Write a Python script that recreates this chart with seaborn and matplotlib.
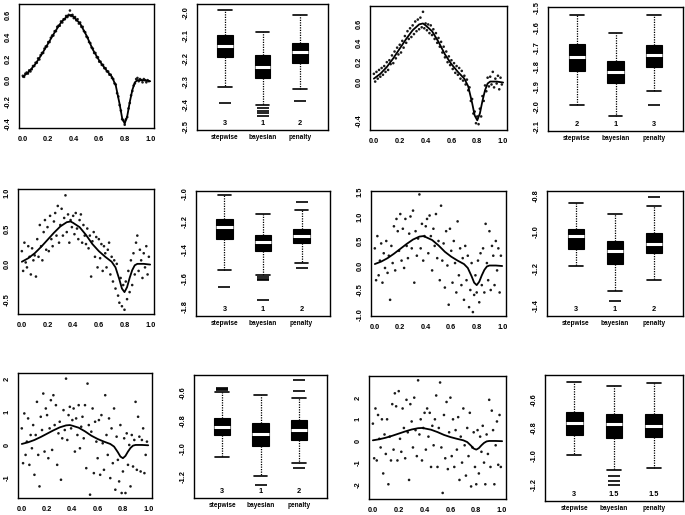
import numpy as np
import pandas as pd
import matplotlib
matplotlib.use("Agg")
import matplotlib.pyplot as plt
import seaborn as sns
from matplotlib.transforms import blended_transform_factory

# ---------------- data ----------------
methods = ["stepwise", "bayesian", "penalty"]

curve_x = [0.00, 0.05, 0.10, 0.15, 0.20, 0.25, 0.30, 0.35, 0.38, 0.40, 0.45, 0.50, 0.55,
           0.60, 0.65, 0.70, 0.73, 0.76, 0.78, 0.80, 0.82, 0.84, 0.86, 0.88, 0.90, 0.95, 1.00]
curve_y = [0.03, 0.08, 0.15, 0.24, 0.34, 0.44, 0.53, 0.59, 0.60, 0.58, 0.52, 0.41, 0.28,
           0.18, 0.10, 0.03, -0.05, -0.22, -0.35, -0.40, -0.33, -0.20, -0.09, -0.02, 0.00, 0.00, -0.01]

x_pts = [0.00, 0.01, 0.02, 0.03, 0.04, 0.05, 0.06, 0.07, 0.08, 0.09,
         0.10, 0.11, 0.12, 0.13, 0.14, 0.15, 0.16, 0.17, 0.18, 0.19,
         0.20, 0.21, 0.22, 0.23, 0.24, 0.25, 0.26, 0.27, 0.28, 0.29,
         0.30, 0.31, 0.32, 0.33, 0.34, 0.35, 0.36, 0.37, 0.38, 0.39,
         0.40, 0.41, 0.42, 0.43, 0.44, 0.45, 0.46, 0.47, 0.48, 0.49,
         0.50, 0.51, 0.52, 0.53, 0.54, 0.55, 0.56, 0.57, 0.58, 0.59,
         0.60, 0.61, 0.62, 0.63, 0.64, 0.65, 0.66, 0.67, 0.68, 0.69,
         0.70, 0.71, 0.72, 0.73, 0.74, 0.75, 0.76, 0.77, 0.78, 0.79,
         0.80, 0.81, 0.82, 0.83, 0.84, 0.85, 0.86, 0.87, 0.88, 0.89,
         0.90, 0.91, 0.92, 0.93, 0.94, 0.95, 0.96, 0.97, 0.98, 0.99]

y_r1c1 = [0.04, 0.03, 0.06, 0.07, 0.06, 0.09, 0.08, 0.10, 0.13, 0.13,
          0.16, 0.16, 0.20, 0.19, 0.23, 0.25, 0.25, 0.29, 0.31, 0.31,
          0.35, 0.35, 0.39, 0.41, 0.41, 0.45, 0.45, 0.49, 0.50, 0.50,
          0.54, 0.53, 0.56, 0.56, 0.59, 0.58, 0.60, 0.64, 0.59, 0.60,
          0.57, 0.58, 0.55, 0.56, 0.52, 0.53, 0.49, 0.49, 0.45, 0.44,
          0.40, 0.39, 0.35, 0.34, 0.30, 0.29, 0.25, 0.25, 0.21, 0.21,
          0.17, 0.17, 0.14, 0.14, 0.11, 0.11, 0.08, 0.08, 0.05, 0.05,
          0.02, 0.01, -0.03, -0.04, -0.12, -0.15, -0.23, -0.28, -0.36, -0.37,
          -0.41, -0.36, -0.34, -0.26, -0.21, -0.14, -0.10, -0.05, -0.03, 0.01,
          0.02, -0.01, 0.01, 0.00, -0.02, 0.01, 0.00, -0.02, 0.00, -0.01]

y_r1c3 = [0.08, 0.00, 0.10, 0.03, 0.12, 0.05, 0.14, 0.07, 0.16, 0.10,
          0.20, 0.12, 0.22, 0.18, 0.27, 0.19, 0.31, 0.24, 0.35, 0.28,
          0.38, 0.30, 0.42, 0.35, 0.47, 0.40, 0.52, 0.44, 0.55, 0.46,
          0.58, 0.49, 0.62, 0.52, 0.64, 0.54, 0.66, 0.56, 0.72, 0.55,
          0.60, 0.53, 0.59, 0.50, 0.58, 0.48, 0.54, 0.44, 0.50, 0.40,
          0.45, 0.36, 0.41, 0.30, 0.36, 0.25, 0.31, 0.20, 0.26, 0.17,
          0.22, 0.13, 0.19, 0.09, 0.16, 0.07, 0.14, 0.03, 0.11, 0.01,
          0.06, -0.03, 0.02, -0.09, -0.06, -0.20, -0.18, -0.33, -0.31, -0.43,
          -0.36, -0.44, -0.28, -0.36, -0.15, -0.20, -0.04, -0.10, 0.04, -0.05,
          0.05, -0.03, 0.10, -0.06, 0.03, -0.02, 0.06, -0.08, 0.04, -0.03]

y_r2c1 = [0.18, -0.10, 0.30, 0.02, -0.05, 0.25, 0.10, -0.15, 0.22, 0.05,
          0.12, -0.18, 0.35, 0.10, 0.55, 0.25, 0.05, 0.45, 0.62, 0.20,
          0.52, 0.18, 0.68, 0.35, 0.25, 0.60, 0.72, 0.40, 0.82, 0.30,
          0.55, 0.78, 0.40, 0.65, 0.97, 0.45, 0.70, 0.30, 0.62, 0.52,
          0.68, 0.42, 0.72, 0.50, 0.35, 0.62, 0.70, 0.30, 0.55, 0.40,
          0.28, 0.50, 0.22, 0.40, -0.18, 0.32, 0.45, 0.10, 0.38, -0.05,
          0.35, 0.08, 0.28, -0.10, 0.25, 0.15, -0.05, 0.20, 0.30, -0.15,
          0.10, -0.25, 0.05, -0.35, 0.00, -0.45, -0.55, -0.20, -0.60, -0.30,
          -0.65, -0.25, -0.50, -0.10, -0.40, 0.05, -0.30, 0.15, -0.15, 0.30,
          0.40, -0.10, 0.20, 0.05, -0.20, 0.15, -0.05, 0.25, -0.15, 0.10]

y_r2c3 = [0.35, -0.30, 0.60, -0.20, 0.10, 0.45, -0.35, 0.25, -0.05, 0.50,
          -0.15, 0.20, -0.70, 0.40, 0.05, 0.80, -0.10, 0.95, 0.70, 0.30,
          1.05, 0.10, 0.75, -0.05, 0.95, 0.40, 0.15, 0.65, 1.00, 0.35,
          1.12, -0.35, 0.70, 0.20, 0.55, 1.45, 0.35, 0.85, 0.10, 0.60,
          0.80, 0.95, 0.25, 1.02, 0.60, -0.10, 0.75, 0.40, 1.05, 0.15,
          0.50, -0.30, 1.22, 0.10, 0.45, -0.45, 0.70, 0.00, -0.80, 0.75,
          0.30, -0.35, 0.50, 0.05, -0.55, 0.90, -0.20, 0.35, -0.40, 0.15,
          -0.70, 0.40, -0.30, 0.20, -0.85, -0.50, 0.05, -0.95, -0.60, -0.20,
          -0.55, 0.10, -0.75, 0.25, -0.40, 0.35, -0.55, 0.85, 0.05, -0.30,
          0.70, -0.50, 0.40, 0.20, -0.40, 0.50, -0.10, 0.35, -0.55, 0.20]

y_r3c1 = [0.50, -0.55, 0.95, -0.30, 0.10, 0.80, -0.60, 0.30, -0.10, 0.60,
          -0.90, 0.30, 1.30, -0.30, -1.25, 0.85, 0.45, 1.55, -0.20, 1.10,
          0.90, -0.40, 0.50, 1.35, -0.15, 1.50, 0.60, 1.20, -0.60, 0.35,
          0.70, -1.05, 0.20, 1.05, 0.45, 2.00, 0.15, 0.90, 1.15, 0.50,
          0.75, 1.10, -0.20, 0.80, 0.30, 1.20, -0.10, 0.55, 0.85, 0.20,
          1.20, -0.70, 1.85, 0.60, -1.50, 0.40, 1.10, -0.85, 0.70, 0.10,
          -0.40, 0.75, -0.90, 0.90, 0.05, -0.75, 1.50, 0.30, -0.30, 0.80,
          -1.00, 0.50, -0.55, 1.10, -1.35, 0.25, -0.45, -1.10, 0.60, -1.45,
          -0.80, 0.20, -1.45, 0.35, -0.60, 0.00, -1.25, 0.30, -0.65, 0.15,
          1.30, -0.75, 0.85, 0.25, -0.80, 0.15, 0.50, -0.85, -0.30, 0.10]

y_r3c3 = [0.80, -0.80, 1.50, -0.90, 1.20, 0.10, -0.30, 1.00, -1.50, 0.30,
          -0.60, 1.00, -2.00, 0.20, -0.90, 1.70, -0.40, 2.20, 1.60, -0.90,
          2.30, 0.10, -0.50, 1.50, 0.60, -0.80, 1.90, 0.40, -1.80, 1.70,
          0.90, -0.30, 2.00, 0.50, -0.70, 2.80, 0.30, 1.00, -0.90, 0.60,
          1.30, -0.40, 1.50, 0.20, 1.30, -1.20, 0.70, -0.20, 1.00, 2.10,
          -1.20, 0.60, 2.70, -0.30, -2.40, 1.20, -0.80, 1.80, -1.30, 0.40,
          2.00, -0.70, 1.00, -1.20, 0.50, -0.40, 1.10, -1.80, 0.20, -1.00,
          1.50, -0.20, -1.60, 0.60, -0.70, 1.30, -2.10, -0.30, 0.40, -1.20,
          -2.00, 0.50, -1.50, 0.20, -0.50, 0.70, -1.00, -2.00, 0.30, -0.60,
          1.90, -1.20, 1.40, 0.50, -2.00, -0.20, 0.90, -1.10, 1.20, -1.20]

# boxplot summaries (stepwise, bayesian, penalty)
b12_hi = [-1.987, -2.082, -2.009]
b12_q3 = [-2.096, -2.186, -2.129]
b12_med = [-2.145, -2.235, -2.171]
b12_q1 = [-2.194, -2.284, -2.221]
b12_lo = [-2.326, -2.405, -2.335]
b12_out = [[-2.393], [-2.418, -2.428, -2.438, -2.452], [-2.386]]
b12_rank = ["3", "1", "2"]

b14_hi = [-1.536, -1.629, -1.536]
b14_q3 = [-1.682, -1.769, -1.687]
b14_med = [-1.751, -1.825, -1.739]
b14_q1 = [-1.819, -1.881, -1.800]
b14_lo = [-1.995, -2.050, -1.924]
b14_out = [[], [], [-1.992]]
b14_rank = ["2", "1", "3"]

b22_hi = [-1.012, -1.142, -1.113]
b22_q3 = [-1.177, -1.296, -1.248]
b22_med = [-1.237, -1.343, -1.301]
b22_q1 = [-1.324, -1.409, -1.350]
b22_lo = [-1.539, -1.575, -1.492]
b22_out = [[-1.667], [-1.590, -1.603, -1.615, -1.757], [-1.055, -1.528]]
b22_rank = ["3", "1", "2"]

b24_hi = [-0.845, -0.900, -0.860]
b24_q3 = [-0.982, -1.050, -1.006]
b24_med = [-1.022, -1.106, -1.064]
b24_q1 = [-1.091, -1.177, -1.115]
b24_lo = [-1.186, -1.323, -1.264]
b24_out = [[], [-1.379], [-0.809]]
b24_rank = ["3", "1", "2"]

b32_hi = [-0.590, -0.617, -0.632]
b32_q3 = [-0.776, -0.812, -0.797]
b32_med = [-0.845, -0.893, -0.864]
b32_q1 = [-0.905, -0.979, -0.936]
b32_lo = [-1.063, -1.200, -1.104]
b32_out = [[-0.565, -0.572, -0.580], [-1.260], [-0.504, -0.583, -1.140]]
b32_rank = ["3", "1", "2"]

b34_hi = [-0.472, -0.502, -0.483]
b34_q3 = [-0.686, -0.705, -0.705]
b34_med = [-0.763, -0.775, -0.787]
b34_q1 = [-0.852, -0.873, -0.864]
b34_lo = [-0.992, -1.097, -1.085]
b34_out = [[], [-1.143, -1.176, -1.206], []]
b34_rank = ["3", "1.5", "1.5"]

# ---------------- drawing ----------------
sns.set_theme(style="white")
plt.rcParams['font.family'] = ['Liberation Sans', 'DejaVu Sans']
plt.rcParams['font.weight'] = 'bold'
plt.rcParams['axes.unicode_minus'] = False

W, H = 685, 515
fig = plt.figure(figsize=(W / 100, H / 100), dpi=100)
fig.patch.set_facecolor('white')

NUM_FS = 5.3
CAT_FS = 4.7


def add_ax(l, r, t, b):
    return fig.add_axes([l / W, 1 - b / H, (r - l) / W, (b - t) / H])


def frame(ax):
    for s in ax.spines.values():
        s.set_visible(True)
        s.set_color('black')
        s.set_linewidth(1.0)
    ax.set_facecolor('white')
    ax.grid(False)


def scatter_panel(box, y, ylim, yticks, ylabels):
    ax = add_ax(*box)
    df = pd.DataFrame({'x': x_pts, 'y': y})
    sns.scatterplot(data=df, x='x', y='y', ax=ax, s=3.5, color='#1a1a1a',
                    edgecolor='none', linewidth=0)
    sns.lineplot(x=curve_x, y=curve_y, ax=ax, color='black', linewidth=1.3,
                 estimator=None, sort=False)
    ax.set_xlim(-0.03, 1.03)
    ax.set_ylim(*ylim)
    ax.set_xticks([0.0, 0.2, 0.4, 0.6, 0.8, 1.0])
    ax.set_xticklabels(["0.0", "0.2", "0.4", "0.6", "0.8", "1.0"], fontsize=NUM_FS,
                       fontweight='bold')
    ax.set_yticks(yticks)
    ax.set_yticklabels(ylabels, rotation=90, va='center', fontsize=NUM_FS,
                       fontweight='bold')
    ax.set_xlabel('')
    ax.set_ylabel('')
    ax.tick_params(axis='both', direction='out', length=2.5, width=0.6,
                   color='black', labelcolor='black')
    ax.tick_params(axis='x', pad=3.5)
    ax.tick_params(axis='y', pad=3)
    frame(ax)
    return ax


def box_panel(box, hi, q3, med, q1, lo, out, ranks, ylim, yticks, ylabels):
    ax = add_ax(*box)
    stats = []
    for i in range(3):
        stats.append(dict(med=med[i], q1=q1[i], q3=q3[i], whislo=lo[i],
                          whishi=hi[i], fliers=out[i], label=methods[i]))
    ax.bxp(stats, positions=[1, 2, 3], widths=0.42, patch_artist=True,
           showfliers=True, capwidths=0.36,
           boxprops=dict(facecolor='black', edgecolor='black', linewidth=0.8),
           medianprops=dict(color='white', linewidth=2.2),
           whiskerprops=dict(color='black', linestyle=(0, (1, 1)), linewidth=0.9),
           capprops=dict(color='black', linewidth=1.2),
           flierprops=dict(marker='_', markersize=9, markeredgewidth=1.2,
                           markeredgecolor='black'))
    ax.set_xlim(0.26, 3.74)
    ax.set_ylim(*ylim)
    ax.set_xticks([1, 2, 3])
    ax.set_xticklabels(methods, fontsize=CAT_FS, fontweight='bold')
    ax.set_yticks(yticks)
    ax.set_yticklabels(ylabels, rotation=90, va='center', fontsize=NUM_FS,
                       fontweight='bold')
    ax.tick_params(axis='x', length=0, pad=3, labelcolor='black')
    ax.tick_params(axis='y', direction='out', length=2.5, width=0.6, pad=3,
                   color='black', labelcolor='black')
    tr = blended_transform_factory(ax.transData, ax.transAxes)
    for i, r in enumerate(ranks):
        ax.text(i + 1, 0.05, r, transform=tr, ha='center', va='center',
                fontsize=NUM_FS, fontweight='bold', color='black')
    frame(ax)
    return ax


# row 1
scatter_panel((19, 154, 4, 128), y_r1c1, (-0.44, 0.70),
              [-0.4, -0.2, 0.0, 0.2, 0.4, 0.6], ["-0.4", "-0.2", "0.0", "0.2", "0.4", "0.6"])
box_panel((197, 328, 4, 130), b12_hi, b12_q3, b12_med, b12_q1, b12_lo, b12_out, b12_rank,
          (-2.513, -1.96), [-2.5, -2.4, -2.3, -2.2, -2.1, -2.0],
          ["-2.5", "-2.4", "-2.3", "-2.2", "-2.1", "-2.0"])
scatter_panel((370, 507, 6, 130), y_r1c3, (-0.50, 0.78),
              [-0.4, -0.2, 0.0, 0.2, 0.4, 0.6], ["-0.4", "", "0.0", "0.2", "0.4", "0.6"])
box_panel((548, 683, 7, 131), b14_hi, b14_q3, b14_med, b14_q1, b14_lo, b14_out, b14_rank,
          (-2.125, -1.495), [-2.1, -2.0, -1.9, -1.8, -1.7, -1.6, -1.5],
          ["-2.1", "-2.0", "-1.9", "-1.8", "-1.7", "-1.6", "-1.5"])

# row 2
scatter_panel((18, 154, 189, 314), y_r2c1, (-0.71, 1.06),
              [-0.5, 0.0, 0.5, 1.0], ["-0.5", "0.0", "0.5", "1.0"])
box_panel((196, 330, 191, 316), b22_hi, b22_q3, b22_med, b22_q1, b22_lo, b22_out, b22_rank,
          (-1.87, -0.98), [-1.8, -1.6, -1.4, -1.2, -1.0],
          ["-1.8", "-1.6", "-1.4", "-1.2", "-1.0"])
scatter_panel((371, 506, 191, 316), y_r2c3, (-1.03, 1.52),
              [-1.0, -0.5, 0.0, 0.5, 1.0, 1.5], ["-1.0", "-0.5", "0.0", "0.5", "1.0", "1.5"])
box_panel((547, 683, 191, 316), b24_hi, b24_q3, b24_med, b24_q1, b24_lo, b24_out, b24_rank,
          (-1.458, -0.777), [-1.4, -1.2, -1.0, -0.8],
          ["-1.4", "-1.2", "-1.0", "-0.8"])

# row 3
scatter_panel((18, 152, 373, 498), y_r3c1, (-1.6, 2.17),
              [-1, 0, 1, 2], ["-1", "0", "1", "2"])
box_panel((194, 327, 375, 498), b32_hi, b32_q3, b32_med, b32_q1, b32_lo, b32_out, b32_rank,
          (-1.355, -0.47), [-1.2, -1.0, -0.8, -0.6],
          ["-1.2", "-1.0", "-0.8", "-0.6"])
scatter_panel((369, 506, 376, 499), y_r3c3, (-2.68, 3.0),
              [-2, -1, 0, 1, 2], ["-2", "-1", "0", "1", "2"])
box_panel((545, 683, 375, 501), b34_hi, b34_q3, b34_med, b34_q1, b34_lo, b34_out, b34_rank,
          (-1.32, -0.425), [-1.2, -1.0, -0.8, -0.6],
          ["-1.2", "-1.0", "-0.8", "-0.6"])

fig.savefig("out.png", dpi=100, facecolor='white')
